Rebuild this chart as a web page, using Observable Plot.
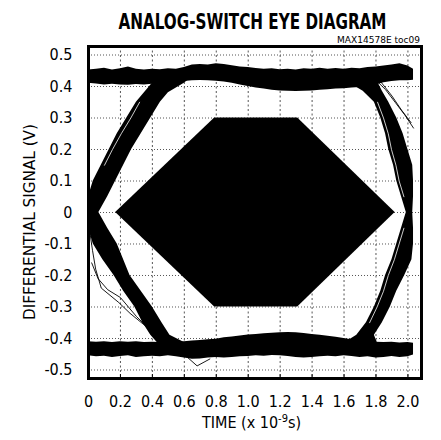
<!DOCTYPE html>
<html><head><meta charset="utf-8">
<script src="https://cdn.jsdelivr.net/npm/d3@7"></script>
<script src="https://cdn.jsdelivr.net/npm/@observablehq/plot@0.6"></script>
<style>
body{margin:0;background:#fff;}
#wrap{position:relative;width:441px;height:440px;overflow:hidden;background:#fff;}
</style>
</head><body><div id="wrap"></div>
<script>
const FONT = '"Liberation Sans Narrow","DejaVu Sans Condensed","Arial Narrow",sans-serif';

// ticks
const xTicks = [0, 0.2, 0.4, 0.6, 0.8, 1.0, 1.2, 1.4, 1.6, 1.8, 2.0];
const xTickLabels = ["0","0.2","0.4","0.6","0.8","1.0","1.2","1.4","1.6","1.8","2.0"];
const yTicks = [-0.5,-0.4,-0.3,-0.2,-0.1,0,0.1,0.2,0.3,0.4,0.5];
const yTickLabels = ["-0.5","-0.4","-0.3","-0.2","-0.1","0","0.1","0.2","0.3","0.4","0.5"];

// eye mask (hexagon)
const maskX  = [0.17, 0.79, 1.31, 1.92];
const maskHi = [0, 0.30, 0.30, 0];
const maskLo = [0, -0.30, -0.30, 0];

// rails
const railX = [0,0.05,0.1,0.15,0.2,0.25,0.3,0.35,0.4,0.45,0.5,0.55,0.6,0.65,0.7,0.75,0.8,0.85,0.9,0.95,1.0,1.05,1.1,1.15,1.2,1.25,1.3,1.35,1.4,1.45,1.5,1.55,1.6,1.65,1.7,1.75,1.8,1.85,1.9,1.95,2.0,2.035];
const topUpper = [.452,.455,.458,.452,.456,.462,.455,.452,.455,.453,.456,.455,.46,.468,.47,.468,.472,.47,.466,.462,.46,.457,.455,.456,.453,.455,.452,.456,.455,.458,.455,.457,.455,.458,.456,.46,.462,.465,.468,.472,.465,.455];
const topLower = [.41,.408,.405,.407,.405,.404,.406,.405,.407,.41,.412,.413,.416,.418,.419,.418,.417,.414,.41,.405,.4,.395,.392,.388,.386,.385,.384,.385,.386,.388,.39,.392,.393,.395,.397,.4,.405,.412,.416,.418,.418,.42];
const botUpper = [-.41,-.412,-.41,-.413,-.41,-.412,-.41,-.413,-.412,-.413,-.413,-.412,-.41,-.408,-.406,-.404,-.402,-.398,-.395,-.392,-.389,-.387,-.385,-.383,-.382,-.381,-.382,-.384,-.387,-.39,-.393,-.396,-.4,-.404,-.408,-.41,-.412,-.413,-.412,-.414,-.413,-.415];
const botLower = [-.455,-.458,-.456,-.46,-.457,-.455,-.46,-.458,-.456,-.458,-.455,-.458,-.462,-.466,-.465,-.462,-.46,-.462,-.46,-.458,-.457,-.455,-.456,-.454,-.455,-.457,-.46,-.462,-.46,-.458,-.456,-.458,-.455,-.457,-.46,-.458,-.462,-.46,-.457,-.46,-.458,-.452];

// transition bands (left edge x1, right edge x2 at each y)
const riseLY  = [0, 0.05, 0.1, 0.15, 0.2, 0.25, 0.3, 0.35, 0.38, 0.41, 0.43];
const riseLX1 = [0, 0, 0.03, 0.08, 0.13, 0.18, 0.24, 0.30, 0.35, 0.40, 0.42];
const riseLX2 = [0.065, 0.12, 0.17, 0.22, 0.27, 0.33, 0.39, 0.45, 0.50, 0.60, 0.65];

const fallLY  = [-0.43, -0.413, -0.39, -0.35, -0.3, -0.25, -0.2, -0.15, -0.1, -0.05, 0];
const fallLX1 = [0.45, 0.43, 0.39, 0.34, 0.29, 0.22, 0.16, 0.09, 0.03, 0, 0];
const fallLX2 = [0.65, 0.60, 0.51, 0.46, 0.40, 0.33, 0.26, 0.22, 0.18, 0.12, 0.065];

const fallRY  = [0, 0.05, 0.1, 0.15, 0.2, 0.25, 0.3, 0.35, 0.385, 0.415];
const fallRX1 = [1.99, 1.96, 1.93, 1.91, 1.88, 1.86, 1.83, 1.79, 1.72, 1.62];
const fallRX2 = [2.03, 2.035, 2.035, 2.03, 2.0, 1.97, 1.93, 1.88, 1.84, 1.81];

const riseRY  = [-0.415, -0.39, -0.35, -0.3, -0.25, -0.2, -0.15, -0.1, -0.05, 0];
const riseRX1 = [1.60, 1.68, 1.74, 1.79, 1.83, 1.86, 1.90, 1.93, 1.96, 1.99];
const riseRX2 = [1.81, 1.79, 1.84, 1.89, 1.93, 1.98, 2.025, 2.035, 2.035, 2.03];

// stray traces
const strayAX = [0.005, 0.025, 0.045, 0.08, 0.19, 0.26, 0.38, 0.49];
const strayAY = [-0.05, -0.12, -0.18, -0.24, -0.286, -0.32, -0.37, -0.413];
const strayBX = [0.02, 0.06, 0.12, 0.2, 0.3, 0.42, 0.51];
const strayBY = [-0.16, -0.21, -0.245, -0.27, -0.33, -0.39, -0.413];
const strayCX = [0.62, 0.68, 0.76];
const strayCY = [-0.46, -0.487, -0.465];
const strayDX = [1.80, 1.86, 1.92, 1.98, 2.035];
const strayDY = [0.42, 0.39, 0.35, 0.31, 0.268];
const strayEX = [1.83, 1.90, 1.96, 2.02];
const strayEY = [0.415, 0.37, 0.325, 0.285];

// light gaps inside bands
const gapURX = [1.975, 1.945, 1.925, 1.897, 1.877, 1.847, 1.81];
const gapURY = [0.05, 0.1, 0.15, 0.2, 0.25, 0.3, 0.35];
const gapLRX = [1.975, 1.945, 1.915, 1.877, 1.847, 1.807, 1.76];
const gapLRY = [-0.05, -0.1, -0.15, -0.2, -0.25, -0.3, -0.35];
const gapLLX = [0.10, 0.15, 0.205, 0.265, 0.32];
const gapLLY = [0.15, 0.2, 0.25, 0.3, 0.35];

const pts = (xs, ys) => xs.map((x, i) => ({x, y: ys[i]}));
const band = (ys, x1s, x2s) => ys.map((y, i) => ({y, x1: x1s[i], x2: x2s[i]}));
const mask = maskX.map((x, i) => ({x, lo: maskLo[i], hi: maskHi[i]}));
const topRail = railX.map((x, i) => ({x, lo: topLower[i], hi: topUpper[i]}));
const botRail = railX.map((x, i) => ({x, lo: botLower[i], hi: botUpper[i]}));

const areaXOpts = {y: "y", x1: "x1", x2: "x2", fill: "black", clip: true};
const lineOpts = {x: "x", y: "y", stroke: "black", strokeWidth: 0.9, clip: true};
const gapOpts = {x: "x", y: "y", stroke: "white", strokeWidth: 0.8, clip: true};

const chart = Plot.plot({
  width: 441, height: 440,
  marginTop: 46, marginBottom: 62, marginLeft: 88, marginRight: 20,
  x: {domain: [0, 2.085], label: null},
  y: {domain: [-0.527, 0.527], label: null},
  style: {fontFamily: FONT, fontSize: "16px", background: "white", color: "black"},
  marks: [
    Plot.gridX(xTicks.slice(1), {stroke: "#555", strokeOpacity: 1, strokeDasharray: "2,2.5"}),
    Plot.gridY(yTicks, {stroke: "#555", strokeOpacity: 1, strokeDasharray: "1,2"}),
    Plot.areaY(mask, {x: "x", y1: "lo", y2: "hi", fill: "black"}),
    Plot.areaY(topRail, {x: "x", y1: "lo", y2: "hi", fill: "black", clip: true}),
    Plot.areaY(botRail, {x: "x", y1: "lo", y2: "hi", fill: "black", clip: true}),
    Plot.areaX(band(riseLY, riseLX1, riseLX2), areaXOpts),
    Plot.areaX(band(fallLY, fallLX1, fallLX2), areaXOpts),
    Plot.areaX(band(fallRY, fallRX1, fallRX2), areaXOpts),
    Plot.areaX(band(riseRY, riseRX1, riseRX2), areaXOpts),
    Plot.line(pts(gapURX, gapURY), gapOpts),
    Plot.line(pts(gapLRX, gapLRY), gapOpts),
    Plot.line(pts(gapLLX, gapLLY), gapOpts),
    Plot.line(pts(strayAX, strayAY), lineOpts),
    Plot.line(pts(strayBX, strayBY), lineOpts),
    Plot.line(pts(strayCX, strayCY), lineOpts),
    Plot.line(pts(strayDX, strayDY), lineOpts),
    Plot.line(pts(strayEX, strayEY), lineOpts),
    Plot.ruleX(xTicks.slice(1), {stroke: "black", insetTop: 328}),
    Plot.frame({stroke: "black", strokeWidth: 3}),
    Plot.axisX(xTicks, {tickSize: 0, tickPadding: 17, fontSize: 16, label: null,
      tickFormat: d => xTickLabels[xTicks.indexOf(d)]}),
    Plot.axisY(yTicks, {tickSize: 0, tickPadding: 16, fontSize: 16, label: null,
      tickFormat: d => yTickLabels[yTicks.indexOf(d)]})
  ]
});
document.getElementById("wrap").appendChild(chart);

const svg = d3.select(chart);
// text scaled horizontally to a target width (keeps natural glyphs, no overflow)
const addText = (x, y, str, o = {}) => {
  const g = svg.append("g");
  const t = g.append("text").attr("x", 0).attr("y", 0)
    .attr("font-family", FONT).attr("font-size", o.size || 16)
    .attr("font-weight", o.weight || "normal")
    .attr("text-anchor", o.anchor || "middle").attr("fill", "black")
    .text(str);
  let sx = 1;
  if (o.len) {
    const w = t.node().getComputedTextLength();
    if (w > 0) sx = o.len / w;
  }
  g.attr("transform", `translate(${x},${y})${o.rotate ? " rotate(-90)" : ""} scale(${sx},1)`);
  return t;
};
addText(252.5, 28.5, "ANALOG-SWITCH EYE DIAGRAM", {size: 22, weight: "bold", len: 268});
addText(420, 42.5, "MAX14578E toc09", {size: 9.5, anchor: "end", len: 83});
addText(35, 222, "DIFFERENTIAL SIGNAL (V)", {size: 16, len: 196, rotate: true});
const xt = svg.append("text").attr("x", 251.5).attr("y", 428)
  .attr("font-family", FONT).attr("font-size", 16).attr("text-anchor", "middle").attr("fill", "black");
xt.append("tspan").text("TIME (x 10");
xt.append("tspan").attr("font-size", 11).attr("dy", -6).text("-9");
xt.append("tspan").attr("dy", 6).text("s)");
</script>
</body></html>
